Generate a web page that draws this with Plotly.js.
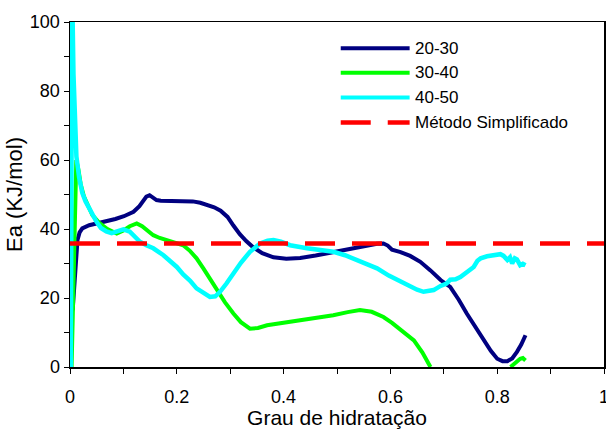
<!DOCTYPE html>
<html>
<head>
<meta charset="utf-8">
<script src="https://cdn.plot.ly/plotly-3.0.1.min.js"></script>
<style>
  html, body { margin: 0; padding: 0; background: #fff; }
  #chart { width: 606px; height: 429px; }
</style>
</head>
<body>
<div id="chart"></div>
<script>
// Activation energy (Ea, kJ/mol) versus degree of hydration, per temperature range.
const seriesNames = ["20-30", "30-40", "40-50", "Método Simplificado"];

const x2030 = [0.005, 0.008, 0.011, 0.014, 0.018, 0.023, 0.036, 0.055, 0.07, 0.085,
  0.101, 0.119, 0.13, 0.137, 0.143, 0.149, 0.155, 0.162, 0.17, 0.19,
  0.212, 0.23, 0.244, 0.258, 0.27, 0.282, 0.295, 0.306, 0.318, 0.33,
  0.343, 0.36, 0.381, 0.405, 0.431, 0.46, 0.493, 0.525, 0.556, 0.575,
  0.587, 0.595, 0.603, 0.619, 0.637, 0.656, 0.675, 0.694, 0.712, 0.728,
  0.743, 0.76, 0.775, 0.788, 0.8, 0.81, 0.819, 0.828, 0.837, 0.845, 0.853];
const y2030 = [16.5, 24, 31, 36.8, 39, 40.2, 41.1, 41.8, 42.1, 42.9,
  43.7, 45, 46.6, 48.4, 49.4, 49.8, 49.1, 48.4, 48.2, 48.2,
  48.2, 48, 47.6, 47, 46.3, 45.3, 43.5, 41, 38.5, 36.5,
  34.7, 33, 31.8, 31.4, 31.6, 32.3, 33.3, 34.4, 35.3, 35.7,
  35.8, 35.2, 34, 33.3, 32.2, 30.5, 28, 25.2, 23.2, 19.5,
  15.5, 11.5, 7.7, 4.7, 2.4, 1.7, 1.7, 2.5, 4.4, 6.5, 9.2];

const x3040 = [0.003, 0.0118, 0.016, 0.02, 0.026, 0.033, 0.042, 0.056, 0.07, 0.0875,
  0.1, 0.112, 0.125, 0.135, 0.144, 0.156, 0.168, 0.181, 0.197, 0.212,
  0.225, 0.237, 0.25, 0.262, 0.275, 0.29, 0.306, 0.32, 0.337, 0.352,
  0.369, 0.4, 0.431, 0.462, 0.493, 0.52, 0.543, 0.565, 0.587, 0.603,
  0.619, 0.632, 0.644, 0.66, 0.675, null, 0.825, 0.835, 0.843, 0.848, 0.853];
const y3040 = [0, 60, 57, 53, 49.5, 47, 44, 41.6, 40, 38.7,
  39.6, 40.8, 41.6, 40.8, 39.7, 38.2, 37.4, 36.8, 36.1, 35.3,
  33.6, 31.5, 28.5, 25.5, 22.3, 18.8, 15.5, 13, 11.1, 11.3,
  12.1, 12.8, 13.5, 14.2, 15, 15.9, 16.5, 16, 14.5, 12.8,
  10.7, 9.2, 7.7, 4.2, 0, null, 0, 1.3, 2.4, 2.6, 1.9];

const x4050 = [0.0015, 0.004, 0.0065, 0.009, 0.012, 0.017, 0.023, 0.029, 0.034, 0.042,
  0.05, 0.058, 0.068, 0.078, 0.09, 0.1, 0.112, 0.121, 0.131, 0.143,
  0.156, 0.175, 0.188, 0.2, 0.212, 0.225, 0.237, 0.25, 0.262, 0.272,
  0.281, 0.293, 0.306, 0.32, 0.337, 0.356, 0.37, 0.381, 0.395, 0.412,
  0.444, 0.47, 0.493, 0.515, 0.537, 0.556, 0.575, 0.597, 0.619, 0.637,
  0.65, 0.662, 0.681, 0.694, 0.705, 0.712, 0.722, 0.731, 0.744, 0.756,
  0.763, 0.769, 0.781, 0.794, 0.806, 0.812, 0.819, 0.824, 0.828, 0.833,
  0.837, 0.843, 0.848, 0.853];
const y4050 = [0, 110, 85, 70, 61, 55, 50.5, 48, 46.4, 44,
  42, 40.3, 39.3, 38.8, 39.5, 39.9, 39.2, 37.8, 36.3, 35.3,
  34.4, 32.4, 30.8, 29, 26.8, 25, 22.8, 21.3, 20.3, 20.5,
  21.8, 24.2, 27.1, 30.2, 33.4, 35.8, 36.6, 36.8, 36.3, 35.3,
  34.4, 33.9, 33.4, 32.4, 31, 29.8, 28.6, 26.5, 24.8, 23.2,
  22.4, 21.8, 22.3, 23.5, 24.2, 25.3, 25.4, 26.1, 27.6, 29,
  30.8, 31.5, 32.1, 32.4, 32.7, 32.2, 31, 31.8, 30, 31.5,
  31.2, 29.5, 29.9, 29.5];

// Simplified method: a single constant Ea over the whole hydration range
const xSimpl = [0, 1];
const ySimpl = [35.8, 35.8];

const colors = ["#000080", "#00ff00", "#00ffff", "#ff0000"];
const FONT = "Liberation Sans, Arial, sans-serif";

const traces = [
  { x: x2030, y: y2030, name: seriesNames[0], mode: "lines",
    line: { color: colors[0], width: 4 } },
  { x: x3040, y: y3040, name: seriesNames[1], mode: "lines",
    line: { color: colors[1], width: 4 } },
  { x: x4050, y: y4050, name: seriesNames[2], mode: "lines",
    line: { color: colors[2], width: 4.5 } },
  { x: xSimpl, y: ySimpl, name: seriesNames[3], mode: "lines",
    line: { color: colors[3], width: 4.5, dash: "30px,17px" } }
];
traces.forEach(t => { t.showlegend = false; t.hoverinfo = "skip"; });

// Legend drawn in paper coordinates with long sample lines
const legendX0 = 0.507, legendX1 = 0.636, legendTextX = 0.642;
const legendRows = [0.924, 0.853, 0.781, 0.709];
const shapes = [], annotations = [];
seriesNames.forEach((name, i) => {
  shapes.push({
    type: "line", xref: "paper", yref: "paper",
    x0: legendX0, x1: legendX1, y0: legendRows[i], y1: legendRows[i],
    line: { color: colors[i], width: i === 3 ? 4.5 : 4, dash: i === 3 ? "30px,17px" : "solid" }
  });
  annotations.push({
    xref: "paper", yref: "paper", x: legendTextX, y: legendRows[i],
    xanchor: "left", yanchor: "middle", showarrow: false, text: name,
    font: { family: FONT, size: 17, color: "#000" }
  });
});

const axisCommon = {
  showline: true, linecolor: "#000", linewidth: 1.5, mirror: true,
  showgrid: false, zeroline: false,
  ticks: "outside", ticklen: 5, tickwidth: 1, tickcolor: "#000",
  tickfont: { family: FONT, size: 18, color: "#000" },
  ticklabeloverflow: "allow",
  fixedrange: true
};

const layout = {
  width: 606, height: 429,
  margin: { l: 70, r: 2, t: 22, b: 62 },
  paper_bgcolor: "#fff", plot_bgcolor: "#fff",
  font: { family: FONT, color: "#000" },
  showlegend: false,
  xaxis: Object.assign({}, axisCommon, {
    range: [0, 1], tick0: 0, dtick: 0.2,
    ticklabelstandoff: 8,
    minor: { dtick: 0.1, ticks: "outside", ticklen: 5, tickwidth: 1, tickcolor: "#000" },
    title: { text: "Grau de hidratação", font: { family: FONT, size: 21, color: "#000" }, standoff: 2 }
  }),
  yaxis: Object.assign({}, axisCommon, {
    range: [0, 100], tick0: 0, dtick: 20,
    minor: { dtick: 10, ticks: "outside", ticklen: 5, tickwidth: 1, tickcolor: "#000" },
    title: { text: "Ea (KJ/mol)", font: { family: FONT, size: 22, color: "#000" }, standoff: 1 }
  }),
  shapes: shapes,
  annotations: annotations
};

Plotly.newPlot("chart", traces, layout, { staticPlot: true, displayModeBar: false });
</script>
</body>
</html>
